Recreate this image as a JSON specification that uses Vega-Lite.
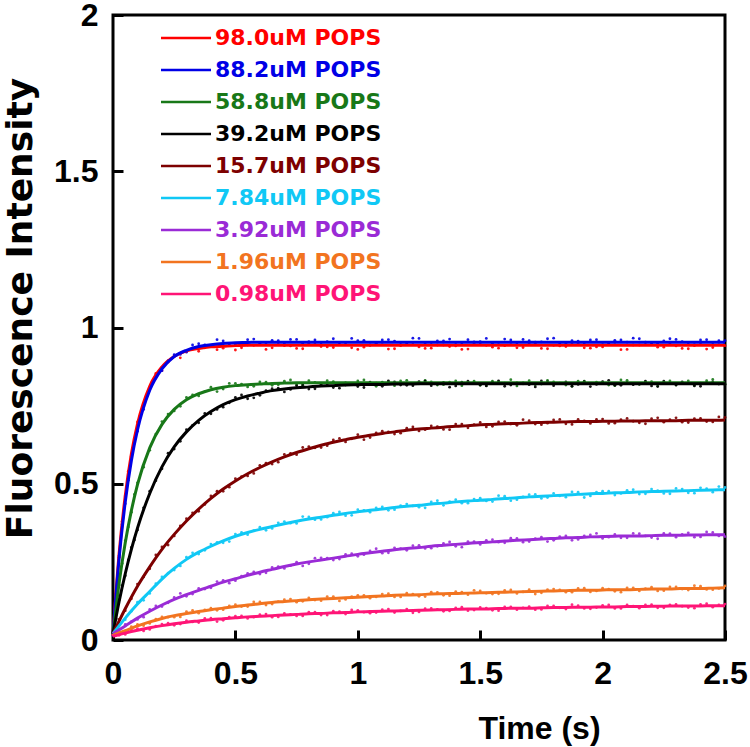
{
"$schema":"https://vega.github.io/schema/vega-lite/v6.json",
"width":612,"height":625,"autosize":"none",
"padding":{"left":113,"top":15,"right":25,"bottom":107},
"background":"white",
"config":{
 "view":{"stroke":"black","strokeWidth":3},
 "axis":{"domain":false,"grid":false,"ticks":true,"tickColor":"black","tickWidth":3,"tickSize":-10,"labelColor":"black","labelFont":"Liberation Sans","labelFontSize":32,"labelFontWeight":"bold","labelFlush":false,"labelOverlap":false,"titleColor":"black","titleFontWeight":"bold"},
 "axisX":{"labelPadding":28,"titleFont":"Liberation Sans","titleFontSize":32,"titleX":426,"titleY":98,"titleBaseline":"alphabetic","titleAlign":"center"},
 "axisY":{"labelPadding":25,"titleFont":"DejaVu Sans","titleFontSize":36,"titleX":-82,"titleY":293,"titleBaseline":"alphabetic","titleAlign":"center","titleAngle":-90},
 "legend":{"orient":"none","legendX":62,"legendY":12,"direction":"vertical","padding":0,"labelFont":"DejaVu Sans","labelFontSize":22,"labelFontWeight":"bold","labelLimit":0,"symbolType":"M-5,0H5","symbolSize":100,"symbolStrokeWidth":2.5,"labelOffset":18,"rowPadding":10}
},
"data":{"values":[
{"s":"98.0","t":0,"f":0.02,"o":0.026,"q":0.0125,"p":0.15},{"s":"98.0","t":0.025,"f":0.276,"o":0.265,"q":0.0375,"p":0.38},{"s":"98.0","t":0.05,"f":0.461,"o":0.461,"q":0.0625,"p":0.54},{"s":"98.0","t":0.075,"f":0.595,"o":0.588,"q":0.0875,"p":0.641},{"s":"98.0","t":0.1,"f":0.691,"o":0.698,"q":0.125,"p":0.752},{"s":"98.0","t":0.15,"f":0.812,"o":0.807,"q":0.175,"p":0.853},{"s":"98.0","t":0.2,"f":0.874,"o":0.862,"q":0.225,"p":0.889},{"s":"98.0","t":0.25,"f":0.907,"o":0.909,"q":0.275,"p":0.903},{"s":"98.0","t":0.3,"f":0.925,"o":0.923,"q":0.325,"p":0.931},{"s":"98.0","t":0.35,"f":0.933,"o":0.924,"q":0.375,"p":0.935},{"s":"98.0","t":0.4,"f":0.938,"o":0.943,"q":0.425,"p":0.929},{"s":"98.0","t":0.45,"f":0.94,"o":0.934,"q":0.475,"p":0.947},{"s":"98.0","t":0.5,"f":0.942,"o":0.928,"q":0.525,"p":0.935},{"s":"98.0","t":0.55,"f":0.943,"o":0.944,"q":0.575,"p":0.943},{"s":"98.0","t":0.6,"f":0.943,"o":0.947,"q":0.625,"p":0.93},{"s":"98.0","t":0.65,"f":0.943,"o":0.935,"q":0.675,"p":0.946},{"s":"98.0","t":0.7,"f":0.943,"o":0.942,"q":0.725,"p":0.941},{"s":"98.0","t":0.75,"f":0.943,"o":0.933,"q":0.775,"p":0.932},{"s":"98.0","t":0.8,"f":0.943,"o":0.949,"q":0.825,"p":0.947},{"s":"98.0","t":0.85,"f":0.943,"o":0.939,"q":0.875,"p":0.938},{"s":"98.0","t":0.9,"f":0.943,"o":0.936,"q":0.925,"p":0.951},{"s":"98.0","t":0.95,"f":0.943,"o":0.946,"q":0.975,"p":0.935},{"s":"98.0","t":1.0,"f":0.943,"o":0.93,"q":1.025,"p":0.937},{"s":"98.0","t":1.05,"f":0.943,"o":0.943,"q":1.075,"p":0.948},{"s":"98.0","t":1.1,"f":0.943,"o":0.945,"q":1.125,"p":0.931},{"s":"98.0","t":1.15,"f":0.943,"o":0.932,"q":1.175,"p":0.942},{"s":"98.0","t":1.2,"f":0.943,"o":0.951,"q":1.225,"p":0.946},{"s":"98.0","t":1.25,"f":0.943,"o":0.938,"q":1.275,"p":0.933},{"s":"98.0","t":1.3,"f":0.943,"o":0.934,"q":1.325,"p":0.944},{"s":"98.0","t":1.35,"f":0.943,"o":0.944,"q":1.375,"p":0.939},{"s":"98.0","t":1.4,"f":0.943,"o":0.941,"q":1.425,"p":0.93},{"s":"98.0","t":1.45,"f":0.943,"o":0.931,"q":1.475,"p":0.949},{"s":"98.0","t":1.5,"f":0.943,"o":0.947,"q":1.525,"p":0.943},{"s":"98.0","t":1.55,"f":0.943,"o":0.937,"q":1.575,"p":0.934},{"s":"98.0","t":1.6,"f":0.943,"o":0.942,"q":1.625,"p":0.945},{"s":"98.0","t":1.65,"f":0.943,"o":0.935,"q":1.675,"p":0.936},{"s":"98.0","t":1.7,"f":0.943,"o":0.948,"q":1.725,"p":0.95},{"s":"98.0","t":1.75,"f":0.943,"o":0.933,"q":1.775,"p":0.932},{"s":"98.0","t":1.8,"f":0.943,"o":0.943,"q":1.825,"p":0.941},{"s":"98.0","t":1.85,"f":0.943,"o":0.939,"q":1.875,"p":0.947},{"s":"98.0","t":1.9,"f":0.943,"o":0.949,"q":1.925,"p":0.935},{"s":"98.0","t":1.95,"f":0.943,"o":0.934,"q":1.975,"p":0.938},{"s":"98.0","t":2.0,"f":0.943,"o":0.938,"q":2.025,"p":0.949},{"s":"98.0","t":2.05,"f":0.943,"o":0.945,"q":2.075,"p":0.929},{"s":"98.0","t":2.1,"f":0.943,"o":0.93,"q":2.125,"p":0.944},{"s":"98.0","t":2.15,"f":0.943,"o":0.944,"q":2.175,"p":0.946},{"s":"98.0","t":2.2,"f":0.943,"o":0.946,"q":2.225,"p":0.937},{"s":"98.0","t":2.25,"f":0.943,"o":0.937,"q":2.275,"p":0.948},{"s":"98.0","t":2.3,"f":0.943,"o":0.941,"q":2.325,"p":0.933},{"s":"98.0","t":2.35,"f":0.943,"o":0.932,"q":2.375,"p":0.942},{"s":"98.0","t":2.4,"f":0.943,"o":0.947,"q":2.425,"p":0.931},{"s":"98.0","t":2.45,"f":0.943,"o":0.936,"q":2.475,"p":0.945},{"s":"98.0","t":2.5,"f":0.943,"o":0.942},
{"s":"88.2","t":0,"f":0.02,"o":0.015,"q":0.0125,"p":0.146},{"s":"88.2","t":0.025,"f":0.262,"o":0.27,"q":0.0375,"p":0.37},{"s":"88.2","t":0.05,"f":0.441,"o":0.436,"q":0.0625,"p":0.511},{"s":"88.2","t":0.075,"f":0.574,"o":0.583,"q":0.0875,"p":0.633},{"s":"88.2","t":0.1,"f":0.672,"o":0.668,"q":0.125,"p":0.738},{"s":"88.2","t":0.15,"f":0.799,"o":0.806,"q":0.175,"p":0.848},{"s":"88.2","t":0.2,"f":0.868,"o":0.862,"q":0.225,"p":0.894},{"s":"88.2","t":0.25,"f":0.907,"o":0.913,"q":0.275,"p":0.914},{"s":"88.2","t":0.3,"f":0.927,"o":0.921,"q":0.325,"p":0.944},{"s":"88.2","t":0.35,"f":0.939,"o":0.948,"q":0.375,"p":0.944},{"s":"88.2","t":0.4,"f":0.945,"o":0.942,"q":0.425,"p":0.961},{"s":"88.2","t":0.45,"f":0.949,"o":0.957,"q":0.475,"p":0.948},{"s":"88.2","t":0.5,"f":0.951,"o":0.946,"q":0.525,"p":0.951},{"s":"88.2","t":0.55,"f":0.952,"o":0.961,"q":0.575,"p":0.963},{"s":"88.2","t":0.6,"f":0.953,"o":0.95,"q":0.625,"p":0.947},{"s":"88.2","t":0.65,"f":0.953,"o":0.959,"q":0.675,"p":0.958},{"s":"88.2","t":0.7,"f":0.953,"o":0.948,"q":0.725,"p":0.962},{"s":"88.2","t":0.75,"f":0.953,"o":0.962,"q":0.775,"p":0.949},{"s":"88.2","t":0.8,"f":0.953,"o":0.955,"q":0.825,"p":0.96},{"s":"88.2","t":0.85,"f":0.953,"o":0.946,"q":0.875,"p":0.955},{"s":"88.2","t":0.9,"f":0.953,"o":0.964,"q":0.925,"p":0.946},{"s":"88.2","t":0.95,"f":0.953,"o":0.951,"q":0.975,"p":0.965},{"s":"88.2","t":1.0,"f":0.953,"o":0.958,"q":1.025,"p":0.959},{"s":"88.2","t":1.05,"f":0.953,"o":0.944,"q":1.075,"p":0.95},{"s":"88.2","t":1.1,"f":0.953,"o":0.96,"q":1.125,"p":0.961},{"s":"88.2","t":1.15,"f":0.953,"o":0.956,"q":1.175,"p":0.952},{"s":"88.2","t":1.2,"f":0.953,"o":0.949,"q":1.225,"p":0.966},{"s":"88.2","t":1.25,"f":0.953,"o":0.965,"q":1.275,"p":0.948},{"s":"88.2","t":1.3,"f":0.953,"o":0.952,"q":1.325,"p":0.957},{"s":"88.2","t":1.35,"f":0.953,"o":0.957,"q":1.375,"p":0.963},{"s":"88.2","t":1.4,"f":0.953,"o":0.946,"q":1.425,"p":0.951},{"s":"88.2","t":1.45,"f":0.953,"o":0.961,"q":1.475,"p":0.954},{"s":"88.2","t":1.5,"f":0.953,"o":0.955,"q":1.525,"p":0.965},{"s":"88.2","t":1.55,"f":0.953,"o":0.95,"q":1.575,"p":0.945},{"s":"88.2","t":1.6,"f":0.953,"o":0.963,"q":1.625,"p":0.96},{"s":"88.2","t":1.65,"f":0.953,"o":0.947,"q":1.675,"p":0.962},{"s":"88.2","t":1.7,"f":0.953,"o":0.958,"q":1.725,"p":0.953},{"s":"88.2","t":1.75,"f":0.953,"o":0.954,"q":1.775,"p":0.964},{"s":"88.2","t":1.8,"f":0.953,"o":0.966,"q":1.825,"p":0.949},{"s":"88.2","t":1.85,"f":0.953,"o":0.949,"q":1.875,"p":0.958},{"s":"88.2","t":1.9,"f":0.953,"o":0.956,"q":1.925,"p":0.947},{"s":"88.2","t":1.95,"f":0.953,"o":0.96,"q":1.975,"p":0.961},{"s":"88.2","t":2.0,"f":0.953,"o":0.945,"q":2.025,"p":0.947},{"s":"88.2","t":2.05,"f":0.953,"o":0.959,"q":2.075,"p":0.96},{"s":"88.2","t":2.1,"f":0.953,"o":0.953,"q":2.125,"p":0.966},{"s":"88.2","t":2.15,"f":0.953,"o":0.964,"q":2.175,"p":0.953},{"s":"88.2","t":2.2,"f":0.953,"o":0.948,"q":2.225,"p":0.95},{"s":"88.2","t":2.25,"f":0.953,"o":0.957,"q":2.275,"p":0.964},{"s":"88.2","t":2.3,"f":0.953,"o":0.962,"q":2.325,"p":0.955},{"s":"88.2","t":2.35,"f":0.953,"o":0.951,"q":2.375,"p":0.945},{"s":"88.2","t":2.4,"f":0.953,"o":0.96,"q":2.425,"p":0.961},{"s":"88.2","t":2.45,"f":0.953,"o":0.946,"q":2.475,"p":0.958},{"s":"88.2","t":2.5,"f":0.953,"o":0.958},
{"s":"58.8","t":0,"f":0.02,"o":0.024,"q":0.0125,"p":0.11},{"s":"58.8","t":0.025,"f":0.182,"o":0.176,"q":0.0375,"p":0.245},{"s":"58.8","t":0.05,"f":0.311,"o":0.318,"q":0.0625,"p":0.362},{"s":"58.8","t":0.075,"f":0.414,"o":0.409,"q":0.0875,"p":0.466},{"s":"58.8","t":0.1,"f":0.497,"o":0.503,"q":0.125,"p":0.553},{"s":"58.8","t":0.15,"f":0.615,"o":0.607,"q":0.175,"p":0.659},{"s":"58.8","t":0.2,"f":0.69,"o":0.699,"q":0.225,"p":0.723},{"s":"58.8","t":0.25,"f":0.738,"o":0.733,"q":0.275,"p":0.748},{"s":"58.8","t":0.3,"f":0.769,"o":0.776,"q":0.325,"p":0.784},{"s":"58.8","t":0.35,"f":0.788,"o":0.781,"q":0.375,"p":0.795},{"s":"58.8","t":0.4,"f":0.801,"o":0.809,"q":0.425,"p":0.795},{"s":"58.8","t":0.45,"f":0.809,"o":0.803,"q":0.475,"p":0.821},{"s":"58.8","t":0.5,"f":0.814,"o":0.821,"q":0.525,"p":0.819},{"s":"58.8","t":0.55,"f":0.817,"o":0.81,"q":0.575,"p":0.812},{"s":"58.8","t":0.6,"f":0.819,"o":0.826,"q":0.625,"p":0.825},{"s":"58.8","t":0.65,"f":0.821,"o":0.815,"q":0.675,"p":0.817},{"s":"58.8","t":0.7,"f":0.822,"o":0.828,"q":0.725,"p":0.832},{"s":"58.8","t":0.75,"f":0.823,"o":0.817,"q":0.775,"p":0.815},{"s":"58.8","t":0.8,"f":0.823,"o":0.83,"q":0.825,"p":0.824},{"s":"58.8","t":0.85,"f":0.823,"o":0.818,"q":0.875,"p":0.83},{"s":"58.8","t":0.9,"f":0.823,"o":0.827,"q":0.925,"p":0.818},{"s":"58.8","t":0.95,"f":0.823,"o":0.816,"q":0.975,"p":0.821},{"s":"58.8","t":1.0,"f":0.823,"o":0.829,"q":1.025,"p":0.832},{"s":"58.8","t":1.05,"f":0.823,"o":0.819,"q":1.075,"p":0.812},{"s":"58.8","t":1.1,"f":0.823,"o":0.825,"q":1.125,"p":0.827},{"s":"58.8","t":1.15,"f":0.823,"o":0.814,"q":1.175,"p":0.829},{"s":"58.8","t":1.2,"f":0.823,"o":0.831,"q":1.225,"p":0.82},{"s":"58.8","t":1.25,"f":0.823,"o":0.82,"q":1.275,"p":0.831},{"s":"58.8","t":1.3,"f":0.823,"o":0.826,"q":1.325,"p":0.816},{"s":"58.8","t":1.35,"f":0.823,"o":0.817,"q":1.375,"p":0.825},{"s":"58.8","t":1.4,"f":0.823,"o":0.829,"q":1.425,"p":0.814},{"s":"58.8","t":1.45,"f":0.823,"o":0.821,"q":1.475,"p":0.828},{"s":"58.8","t":1.5,"f":0.823,"o":0.815,"q":1.525,"p":0.814},{"s":"58.8","t":1.55,"f":0.823,"o":0.828,"q":1.575,"p":0.827},{"s":"58.8","t":1.6,"f":0.823,"o":0.822,"q":1.625,"p":0.833},{"s":"58.8","t":1.65,"f":0.823,"o":0.813,"q":1.675,"p":0.82},{"s":"58.8","t":1.7,"f":0.823,"o":0.83,"q":1.725,"p":0.817},{"s":"58.8","t":1.75,"f":0.823,"o":0.819,"q":1.775,"p":0.831},{"s":"58.8","t":1.8,"f":0.823,"o":0.826,"q":1.825,"p":0.822},{"s":"58.8","t":1.85,"f":0.823,"o":0.816,"q":1.875,"p":0.812},{"s":"58.8","t":1.9,"f":0.823,"o":0.828,"q":1.925,"p":0.828},{"s":"58.8","t":1.95,"f":0.823,"o":0.82,"q":1.975,"p":0.825},{"s":"58.8","t":2.0,"f":0.823,"o":0.825,"q":2.025,"p":0.816},{"s":"58.8","t":2.05,"f":0.823,"o":0.814,"q":2.075,"p":0.832},{"s":"58.8","t":2.1,"f":0.823,"o":0.831,"q":2.125,"p":0.819},{"s":"58.8","t":2.15,"f":0.823,"o":0.818,"q":2.175,"p":0.826},{"s":"58.8","t":2.2,"f":0.823,"o":0.827,"q":2.225,"p":0.813},{"s":"58.8","t":2.25,"f":0.823,"o":0.821,"q":2.275,"p":0.829},{"s":"58.8","t":2.3,"f":0.823,"o":0.816,"q":2.325,"p":0.824},{"s":"58.8","t":2.35,"f":0.823,"o":0.829,"q":2.375,"p":0.815},{"s":"58.8","t":2.4,"f":0.823,"o":0.822,"q":2.425,"p":0.83},{"s":"58.8","t":2.45,"f":0.823,"o":0.834,"q":2.475,"p":0.821},{"s":"58.8","t":2.5,"f":0.823,"o":0.819},
{"s":"39.2","t":0,"f":0.02,"o":0.018,"q":0.0125,"p":0.068},{"s":"39.2","t":0.025,"f":0.123,"o":0.129,"q":0.0375,"p":0.174},{"s":"39.2","t":0.05,"f":0.212,"o":0.206,"q":0.0625,"p":0.256},{"s":"39.2","t":0.075,"f":0.29,"o":0.296,"q":0.0875,"p":0.32},{"s":"39.2","t":0.1,"f":0.358,"o":0.352,"q":0.125,"p":0.423},{"s":"39.2","t":0.15,"f":0.469,"o":0.476,"q":0.175,"p":0.51},{"s":"39.2","t":0.2,"f":0.554,"o":0.548,"q":0.225,"p":0.598},{"s":"39.2","t":0.25,"f":0.618,"o":0.611,"q":0.275,"p":0.636},{"s":"39.2","t":0.3,"f":0.666,"o":0.673,"q":0.325,"p":0.687},{"s":"39.2","t":0.35,"f":0.703,"o":0.695,"q":0.375,"p":0.725},{"s":"39.2","t":0.4,"f":0.731,"o":0.724,"q":0.425,"p":0.738},{"s":"39.2","t":0.45,"f":0.753,"o":0.745,"q":0.475,"p":0.759},{"s":"39.2","t":0.5,"f":0.769,"o":0.776,"q":0.525,"p":0.784},{"s":"39.2","t":0.55,"f":0.781,"o":0.772,"q":0.575,"p":0.775},{"s":"39.2","t":0.6,"f":0.79,"o":0.783,"q":0.625,"p":0.798},{"s":"39.2","t":0.65,"f":0.798,"o":0.804,"q":0.675,"p":0.806},{"s":"39.2","t":0.7,"f":0.803,"o":0.794,"q":0.725,"p":0.802},{"s":"39.2","t":0.75,"f":0.807,"o":0.814,"q":0.775,"p":0.817},{"s":"39.2","t":0.8,"f":0.81,"o":0.803,"q":0.825,"p":0.804},{"s":"39.2","t":0.85,"f":0.813,"o":0.819,"q":0.875,"p":0.816},{"s":"39.2","t":0.9,"f":0.814,"o":0.808,"q":0.925,"p":0.806},{"s":"39.2","t":0.95,"f":0.816,"o":0.823,"q":0.975,"p":0.821},{"s":"39.2","t":1.0,"f":0.817,"o":0.811,"q":1.025,"p":0.808},{"s":"39.2","t":1.05,"f":0.818,"o":0.825,"q":1.075,"p":0.822},{"s":"39.2","t":1.1,"f":0.818,"o":0.812,"q":1.125,"p":0.829},{"s":"39.2","t":1.15,"f":0.819,"o":0.826,"q":1.175,"p":0.816},{"s":"39.2","t":1.2,"f":0.819,"o":0.815,"q":1.225,"p":0.814},{"s":"39.2","t":1.25,"f":0.82,"o":0.827,"q":1.275,"p":0.828},{"s":"39.2","t":1.3,"f":0.82,"o":0.814,"q":1.325,"p":0.819},{"s":"39.2","t":1.35,"f":0.82,"o":0.824,"q":1.375,"p":0.809},{"s":"39.2","t":1.4,"f":0.82,"o":0.813,"q":1.425,"p":0.825},{"s":"39.2","t":1.45,"f":0.82,"o":0.828,"q":1.475,"p":0.822},{"s":"39.2","t":1.5,"f":0.82,"o":0.816,"q":1.525,"p":0.813},{"s":"39.2","t":1.55,"f":0.82,"o":0.825,"q":1.575,"p":0.829},{"s":"39.2","t":1.6,"f":0.82,"o":0.812,"q":1.625,"p":0.816},{"s":"39.2","t":1.65,"f":0.82,"o":0.823,"q":1.675,"p":0.823},{"s":"39.2","t":1.7,"f":0.82,"o":0.817,"q":1.725,"p":0.81},{"s":"39.2","t":1.75,"f":0.82,"o":0.829,"q":1.775,"p":0.826},{"s":"39.2","t":1.8,"f":0.82,"o":0.814,"q":1.825,"p":0.821},{"s":"39.2","t":1.85,"f":0.82,"o":0.826,"q":1.875,"p":0.812},{"s":"39.2","t":1.9,"f":0.82,"o":0.818,"q":1.925,"p":0.827},{"s":"39.2","t":1.95,"f":0.82,"o":0.811,"q":1.975,"p":0.818},{"s":"39.2","t":2.0,"f":0.82,"o":0.827,"q":2.025,"p":0.831},{"s":"39.2","t":2.05,"f":0.82,"o":0.815,"q":2.075,"p":0.815},{"s":"39.2","t":2.1,"f":0.82,"o":0.824,"q":2.125,"p":0.817},{"s":"39.2","t":2.15,"f":0.82,"o":0.819,"q":2.175,"p":0.828},{"s":"39.2","t":2.2,"f":0.82,"o":0.813,"q":2.225,"p":0.811},{"s":"39.2","t":2.25,"f":0.82,"o":0.828,"q":2.275,"p":0.822},{"s":"39.2","t":2.3,"f":0.82,"o":0.816,"q":2.325,"p":0.826},{"s":"39.2","t":2.35,"f":0.82,"o":0.822,"q":2.375,"p":0.813},{"s":"39.2","t":2.4,"f":0.82,"o":0.812,"q":2.425,"p":0.824},{"s":"39.2","t":2.45,"f":0.82,"o":0.826,"q":2.475,"p":0.819},{"s":"39.2","t":2.5,"f":0.82,"o":0.818},
{"s":"15.7","t":0,"f":0.02,"o":0.025,"q":0.025,"p":0.066},{"s":"15.7","t":0.05,"f":0.1,"o":0.094,"q":0.075,"p":0.132},{"s":"15.7","t":0.1,"f":0.172,"o":0.179,"q":0.125,"p":0.202},{"s":"15.7","t":0.15,"f":0.234,"o":0.228,"q":0.175,"p":0.272},{"s":"15.7","t":0.2,"f":0.29,"o":0.298,"q":0.225,"p":0.304},{"s":"15.7","t":0.25,"f":0.338,"o":0.333,"q":0.275,"p":0.365},{"s":"15.7","t":0.3,"f":0.381,"o":0.388,"q":0.325,"p":0.407},{"s":"15.7","t":0.35,"f":0.419,"o":0.412,"q":0.375,"p":0.434},{"s":"15.7","t":0.4,"f":0.453,"o":0.461,"q":0.425,"p":0.476},{"s":"15.7","t":0.45,"f":0.483,"o":0.476,"q":0.475,"p":0.489},{"s":"15.7","t":0.5,"f":0.509,"o":0.516,"q":0.525,"p":0.523},{"s":"15.7","t":0.55,"f":0.532,"o":0.525,"q":0.575,"p":0.533},{"s":"15.7","t":0.6,"f":0.552,"o":0.559,"q":0.625,"p":0.566},{"s":"15.7","t":0.65,"f":0.57,"o":0.563,"q":0.675,"p":0.569},{"s":"15.7","t":0.7,"f":0.586,"o":0.594,"q":0.725,"p":0.597},{"s":"15.7","t":0.75,"f":0.6,"o":0.593,"q":0.775,"p":0.616},{"s":"15.7","t":0.8,"f":0.612,"o":0.619,"q":0.825,"p":0.615},{"s":"15.7","t":0.85,"f":0.623,"o":0.616,"q":0.875,"p":0.622},{"s":"15.7","t":0.9,"f":0.633,"o":0.64,"q":0.925,"p":0.645},{"s":"15.7","t":0.95,"f":0.641,"o":0.634,"q":0.975,"p":0.644},{"s":"15.7","t":1.0,"f":0.649,"o":0.657,"q":1.025,"p":0.641},{"s":"15.7","t":1.05,"f":0.655,"o":0.648,"q":1.075,"p":0.663},{"s":"15.7","t":1.1,"f":0.661,"o":0.668,"q":1.125,"p":0.666},{"s":"15.7","t":1.15,"f":0.666,"o":0.659,"q":1.175,"p":0.662},{"s":"15.7","t":1.2,"f":0.671,"o":0.678,"q":1.225,"p":0.682},{"s":"15.7","t":1.25,"f":0.675,"o":0.669,"q":1.275,"p":0.673},{"s":"15.7","t":1.3,"f":0.678,"o":0.685,"q":1.325,"p":0.683},{"s":"15.7","t":1.35,"f":0.681,"o":0.674,"q":1.375,"p":0.673},{"s":"15.7","t":1.4,"f":0.684,"o":0.691,"q":1.425,"p":0.691},{"s":"15.7","t":1.45,"f":0.686,"o":0.679,"q":1.475,"p":0.689},{"s":"15.7","t":1.5,"f":0.689,"o":0.696,"q":1.525,"p":0.682},{"s":"15.7","t":1.55,"f":0.69,"o":0.684,"q":1.575,"p":0.698},{"s":"15.7","t":1.6,"f":0.692,"o":0.699,"q":1.625,"p":0.691},{"s":"15.7","t":1.65,"f":0.693,"o":0.687,"q":1.675,"p":0.705},{"s":"15.7","t":1.7,"f":0.695,"o":0.702,"q":1.725,"p":0.691},{"s":"15.7","t":1.75,"f":0.696,"o":0.689,"q":1.775,"p":0.694},{"s":"15.7","t":1.8,"f":0.697,"o":0.704,"q":1.825,"p":0.706},{"s":"15.7","t":1.85,"f":0.698,"o":0.692,"q":1.875,"p":0.69},{"s":"15.7","t":1.9,"f":0.699,"o":0.706,"q":1.925,"p":0.701},{"s":"15.7","t":1.95,"f":0.699,"o":0.693,"q":1.975,"p":0.706},{"s":"15.7","t":2.0,"f":0.7,"o":0.707,"q":2.025,"p":0.693},{"s":"15.7","t":2.05,"f":0.7,"o":0.694,"q":2.075,"p":0.705},{"s":"15.7","t":2.1,"f":0.701,"o":0.709,"q":2.125,"p":0.7},{"s":"15.7","t":2.15,"f":0.701,"o":0.695,"q":2.175,"p":0.692},{"s":"15.7","t":2.2,"f":0.702,"o":0.708,"q":2.225,"p":0.711},{"s":"15.7","t":2.25,"f":0.702,"o":0.697,"q":2.275,"p":0.705},{"s":"15.7","t":2.3,"f":0.702,"o":0.711,"q":2.325,"p":0.697},{"s":"15.7","t":2.35,"f":0.703,"o":0.696,"q":2.375,"p":0.708},{"s":"15.7","t":2.4,"f":0.703,"o":0.709,"q":2.425,"p":0.699},{"s":"15.7","t":2.45,"f":0.703,"o":0.698,"q":2.475,"p":0.714},{"s":"15.7","t":2.5,"f":0.704,"o":0.712},
{"s":"7.84","t":0,"f":0.02,"o":0.024,"q":0.025,"p":0.049},{"s":"7.84","t":0.05,"f":0.07,"o":0.065,"q":0.075,"p":0.092},{"s":"7.84","t":0.1,"f":0.115,"o":0.121,"q":0.125,"p":0.127},{"s":"7.84","t":0.15,"f":0.155,"o":0.149,"q":0.175,"p":0.18},{"s":"7.84","t":0.2,"f":0.195,"o":0.202,"q":0.225,"p":0.214},{"s":"7.84","t":0.25,"f":0.229,"o":0.224,"q":0.275,"p":0.237},{"s":"7.84","t":0.3,"f":0.258,"o":0.265,"q":0.325,"p":0.279},{"s":"7.84","t":0.35,"f":0.281,"o":0.275,"q":0.375,"p":0.287},{"s":"7.84","t":0.4,"f":0.3,"o":0.307,"q":0.425,"p":0.312},{"s":"7.84","t":0.45,"f":0.317,"o":0.311,"q":0.475,"p":0.315},{"s":"7.84","t":0.5,"f":0.332,"o":0.339,"q":0.525,"p":0.344},{"s":"7.84","t":0.55,"f":0.344,"o":0.337,"q":0.575,"p":0.35},{"s":"7.84","t":0.6,"f":0.354,"o":0.361,"q":0.625,"p":0.351},{"s":"7.84","t":0.65,"f":0.363,"o":0.357,"q":0.675,"p":0.375},{"s":"7.84","t":0.7,"f":0.372,"o":0.379,"q":0.725,"p":0.374},{"s":"7.84","t":0.75,"f":0.38,"o":0.373,"q":0.775,"p":0.395},{"s":"7.84","t":0.8,"f":0.387,"o":0.394,"q":0.825,"p":0.385},{"s":"7.84","t":0.85,"f":0.393,"o":0.386,"q":0.875,"p":0.393},{"s":"7.84","t":0.9,"f":0.399,"o":0.406,"q":0.925,"p":0.41},{"s":"7.84","t":0.95,"f":0.405,"o":0.398,"q":0.975,"p":0.399},{"s":"7.84","t":1.0,"f":0.41,"o":0.417,"q":1.025,"p":0.415},{"s":"7.84","t":1.05,"f":0.415,"o":0.409,"q":1.075,"p":0.423},{"s":"7.84","t":1.1,"f":0.419,"o":0.426,"q":1.125,"p":0.415},{"s":"7.84","t":1.15,"f":0.424,"o":0.417,"q":1.175,"p":0.43},{"s":"7.84","t":1.2,"f":0.428,"o":0.435,"q":1.225,"p":0.429},{"s":"7.84","t":1.25,"f":0.431,"o":0.425,"q":1.275,"p":0.423},{"s":"7.84","t":1.3,"f":0.435,"o":0.442,"q":1.325,"p":0.446},{"s":"7.84","t":1.35,"f":0.438,"o":0.431,"q":1.375,"p":0.443},{"s":"7.84","t":1.4,"f":0.442,"o":0.449,"q":1.425,"p":0.438},{"s":"7.84","t":1.45,"f":0.445,"o":0.438,"q":1.475,"p":0.451},{"s":"7.84","t":1.5,"f":0.447,"o":0.454,"q":1.525,"p":0.445},{"s":"7.84","t":1.55,"f":0.45,"o":0.443,"q":1.575,"p":0.462},{"s":"7.84","t":1.6,"f":0.453,"o":0.46,"q":1.625,"p":0.446},{"s":"7.84","t":1.65,"f":0.455,"o":0.449,"q":1.675,"p":0.458},{"s":"7.84","t":1.7,"f":0.458,"o":0.465,"q":1.725,"p":0.466},{"s":"7.84","t":1.75,"f":0.46,"o":0.453,"q":1.775,"p":0.456},{"s":"7.84","t":1.8,"f":0.462,"o":0.469,"q":1.825,"p":0.461},{"s":"7.84","t":1.85,"f":0.464,"o":0.457,"q":1.875,"p":0.474},{"s":"7.84","t":1.9,"f":0.466,"o":0.473,"q":1.925,"p":0.456},{"s":"7.84","t":1.95,"f":0.468,"o":0.461,"q":1.975,"p":0.473},{"s":"7.84","t":2.0,"f":0.469,"o":0.476,"q":2.025,"p":0.476},{"s":"7.84","t":2.05,"f":0.471,"o":0.464,"q":2.075,"p":0.469},{"s":"7.84","t":2.1,"f":0.472,"o":0.479,"q":2.125,"p":0.481},{"s":"7.84","t":2.15,"f":0.474,"o":0.467,"q":2.175,"p":0.468},{"s":"7.84","t":2.2,"f":0.475,"o":0.483,"q":2.225,"p":0.478},{"s":"7.84","t":2.25,"f":0.476,"o":0.469,"q":2.275,"p":0.468},{"s":"7.84","t":2.3,"f":0.477,"o":0.485,"q":2.325,"p":0.483},{"s":"7.84","t":2.35,"f":0.478,"o":0.471,"q":2.375,"p":0.47},{"s":"7.84","t":2.4,"f":0.479,"o":0.487,"q":2.425,"p":0.484},{"s":"7.84","t":2.45,"f":0.48,"o":0.473,"q":2.475,"p":0.491},{"s":"7.84","t":2.5,"f":0.481,"o":0.488},
{"s":"3.92","t":0,"f":0.02,"o":0.017,"q":0.025,"p":0.035},{"s":"3.92","t":0.05,"f":0.045,"o":0.05,"q":0.075,"p":0.059},{"s":"3.92","t":0.1,"f":0.07,"o":0.066,"q":0.125,"p":0.073},{"s":"3.92","t":0.15,"f":0.092,"o":0.098,"q":0.175,"p":0.109},{"s":"3.92","t":0.2,"f":0.112,"o":0.107,"q":0.225,"p":0.119},{"s":"3.92","t":0.25,"f":0.13,"o":0.136,"q":0.275,"p":0.149},{"s":"3.92","t":0.3,"f":0.145,"o":0.14,"q":0.325,"p":0.147},{"s":"3.92","t":0.35,"f":0.159,"o":0.165,"q":0.375,"p":0.163},{"s":"3.92","t":0.4,"f":0.172,"o":0.167,"q":0.425,"p":0.187},{"s":"3.92","t":0.45,"f":0.185,"o":0.191,"q":0.475,"p":0.182},{"s":"3.92","t":0.5,"f":0.196,"o":0.19,"q":0.525,"p":0.204},{"s":"3.92","t":0.55,"f":0.207,"o":0.213,"q":0.575,"p":0.218},{"s":"3.92","t":0.6,"f":0.217,"o":0.211,"q":0.625,"p":0.215},{"s":"3.92","t":0.65,"f":0.226,"o":0.232,"q":0.675,"p":0.235},{"s":"3.92","t":0.7,"f":0.235,"o":0.229,"q":0.725,"p":0.238},{"s":"3.92","t":0.75,"f":0.243,"o":0.249,"q":0.775,"p":0.237},{"s":"3.92","t":0.8,"f":0.25,"o":0.244,"q":0.825,"p":0.262},{"s":"3.92","t":0.85,"f":0.256,"o":0.263,"q":0.875,"p":0.262},{"s":"3.92","t":0.9,"f":0.262,"o":0.256,"q":0.925,"p":0.259},{"s":"3.92","t":0.95,"f":0.268,"o":0.274,"q":0.975,"p":0.276},{"s":"3.92","t":1.0,"f":0.274,"o":0.268,"q":1.025,"p":0.273},{"s":"3.92","t":1.05,"f":0.279,"o":0.285,"q":1.075,"p":0.292},{"s":"3.92","t":1.1,"f":0.284,"o":0.278,"q":1.125,"p":0.279},{"s":"3.92","t":1.15,"f":0.289,"o":0.295,"q":1.175,"p":0.292},{"s":"3.92","t":1.2,"f":0.293,"o":0.287,"q":1.225,"p":0.302},{"s":"3.92","t":1.25,"f":0.296,"o":0.303,"q":1.275,"p":0.293},{"s":"3.92","t":1.3,"f":0.3,"o":0.294,"q":1.325,"p":0.3},{"s":"3.92","t":1.35,"f":0.303,"o":0.309,"q":1.375,"p":0.314},{"s":"3.92","t":1.4,"f":0.306,"o":0.3,"q":1.425,"p":0.297},{"s":"3.92","t":1.45,"f":0.309,"o":0.315,"q":1.475,"p":0.315},{"s":"3.92","t":1.5,"f":0.312,"o":0.306,"q":1.525,"p":0.319},{"s":"3.92","t":1.55,"f":0.314,"o":0.321,"q":1.575,"p":0.313},{"s":"3.92","t":1.6,"f":0.317,"o":0.311,"q":1.625,"p":0.326},{"s":"3.92","t":1.65,"f":0.319,"o":0.325,"q":1.675,"p":0.313},{"s":"3.92","t":1.7,"f":0.321,"o":0.315,"q":1.725,"p":0.324},{"s":"3.92","t":1.75,"f":0.323,"o":0.329,"q":1.775,"p":0.315},{"s":"3.92","t":1.8,"f":0.325,"o":0.319,"q":1.825,"p":0.331},{"s":"3.92","t":1.85,"f":0.327,"o":0.333,"q":1.875,"p":0.319},{"s":"3.92","t":1.9,"f":0.328,"o":0.322,"q":1.925,"p":0.333},{"s":"3.92","t":1.95,"f":0.33,"o":0.336,"q":1.975,"p":0.341},{"s":"3.92","t":2.0,"f":0.331,"o":0.325,"q":2.025,"p":0.329},{"s":"3.92","t":2.05,"f":0.332,"o":0.338,"q":2.075,"p":0.327},{"s":"3.92","t":2.1,"f":0.333,"o":0.327,"q":2.125,"p":0.341},{"s":"3.92","t":2.15,"f":0.333,"o":0.34,"q":2.175,"p":0.333},{"s":"3.92","t":2.2,"f":0.334,"o":0.328,"q":2.225,"p":0.324},{"s":"3.92","t":2.25,"f":0.335,"o":0.341,"q":2.275,"p":0.34},{"s":"3.92","t":2.3,"f":0.335,"o":0.329,"q":2.325,"p":0.338},{"s":"3.92","t":2.35,"f":0.336,"o":0.343,"q":2.375,"p":0.329},{"s":"3.92","t":2.4,"f":0.336,"o":0.33,"q":2.425,"p":0.346},{"s":"3.92","t":2.45,"f":0.337,"o":0.344,"q":2.475,"p":0.333},{"s":"3.92","t":2.5,"f":0.337,"o":0.331},
{"s":"1.96","t":0,"f":0.015,"o":0.018,"q":0.025,"p":0.024},{"s":"1.96","t":0.05,"f":0.03,"o":0.026,"q":0.075,"p":0.043},{"s":"1.96","t":0.1,"f":0.045,"o":0.05,"q":0.125,"p":0.046},{"s":"1.96","t":0.15,"f":0.058,"o":0.053,"q":0.175,"p":0.067},{"s":"1.96","t":0.2,"f":0.069,"o":0.074,"q":0.225,"p":0.073},{"s":"1.96","t":0.25,"f":0.078,"o":0.073,"q":0.275,"p":0.074},{"s":"1.96","t":0.3,"f":0.085,"o":0.091,"q":0.325,"p":0.095},{"s":"1.96","t":0.35,"f":0.091,"o":0.086,"q":0.375,"p":0.096},{"s":"1.96","t":0.4,"f":0.097,"o":0.102,"q":0.425,"p":0.095},{"s":"1.96","t":0.45,"f":0.102,"o":0.097,"q":0.475,"p":0.109},{"s":"1.96","t":0.5,"f":0.107,"o":0.113,"q":0.525,"p":0.107},{"s":"1.96","t":0.55,"f":0.112,"o":0.107,"q":0.575,"p":0.122},{"s":"1.96","t":0.6,"f":0.116,"o":0.122,"q":0.625,"p":0.112},{"s":"1.96","t":0.65,"f":0.12,"o":0.115,"q":0.675,"p":0.123},{"s":"1.96","t":0.7,"f":0.123,"o":0.129,"q":0.725,"p":0.131},{"s":"1.96","t":0.75,"f":0.126,"o":0.121,"q":0.775,"p":0.124},{"s":"1.96","t":0.8,"f":0.129,"o":0.135,"q":0.825,"p":0.128},{"s":"1.96","t":0.85,"f":0.131,"o":0.126,"q":0.875,"p":0.139},{"s":"1.96","t":0.9,"f":0.133,"o":0.139,"q":0.925,"p":0.125},{"s":"1.96","t":0.95,"f":0.135,"o":0.13,"q":0.975,"p":0.139},{"s":"1.96","t":1.0,"f":0.137,"o":0.143,"q":1.025,"p":0.143},{"s":"1.96","t":1.05,"f":0.139,"o":0.134,"q":1.075,"p":0.138},{"s":"1.96","t":1.1,"f":0.141,"o":0.147,"q":1.125,"p":0.148},{"s":"1.96","t":1.15,"f":0.143,"o":0.138,"q":1.175,"p":0.138},{"s":"1.96","t":1.2,"f":0.144,"o":0.15,"q":1.225,"p":0.147},{"s":"1.96","t":1.25,"f":0.145,"o":0.14,"q":1.275,"p":0.139},{"s":"1.96","t":1.3,"f":0.147,"o":0.153,"q":1.325,"p":0.152},{"s":"1.96","t":1.35,"f":0.148,"o":0.143,"q":1.375,"p":0.142},{"s":"1.96","t":1.4,"f":0.149,"o":0.155,"q":1.425,"p":0.153},{"s":"1.96","t":1.45,"f":0.15,"o":0.145,"q":1.475,"p":0.159},{"s":"1.96","t":1.5,"f":0.151,"o":0.157,"q":1.525,"p":0.15},{"s":"1.96","t":1.55,"f":0.152,"o":0.147,"q":1.575,"p":0.148},{"s":"1.96","t":1.6,"f":0.153,"o":0.159,"q":1.625,"p":0.16},{"s":"1.96","t":1.65,"f":0.154,"o":0.149,"q":1.675,"p":0.154},{"s":"1.96","t":1.7,"f":0.155,"o":0.161,"q":1.725,"p":0.147},{"s":"1.96","t":1.75,"f":0.156,"o":0.151,"q":1.775,"p":0.161},{"s":"1.96","t":1.8,"f":0.157,"o":0.163,"q":1.825,"p":0.16},{"s":"1.96","t":1.85,"f":0.158,"o":0.153,"q":1.875,"p":0.153},{"s":"1.96","t":1.9,"f":0.159,"o":0.165,"q":1.925,"p":0.166},{"s":"1.96","t":1.95,"f":0.159,"o":0.154,"q":1.975,"p":0.157},{"s":"1.96","t":2.0,"f":0.16,"o":0.166,"q":2.025,"p":0.163},{"s":"1.96","t":2.05,"f":0.161,"o":0.156,"q":2.075,"p":0.153},{"s":"1.96","t":2.1,"f":0.161,"o":0.167,"q":2.125,"p":0.167},{"s":"1.96","t":2.15,"f":0.162,"o":0.157,"q":2.175,"p":0.164},{"s":"1.96","t":2.2,"f":0.163,"o":0.169,"q":2.225,"p":0.157},{"s":"1.96","t":2.25,"f":0.163,"o":0.158,"q":2.275,"p":0.17},{"s":"1.96","t":2.3,"f":0.164,"o":0.17,"q":2.325,"p":0.163},{"s":"1.96","t":2.35,"f":0.165,"o":0.16,"q":2.375,"p":0.174},{"s":"1.96","t":2.4,"f":0.165,"o":0.172,"q":2.425,"p":0.162},{"s":"1.96","t":2.45,"f":0.166,"o":0.161,"q":2.475,"p":0.165},{"s":"1.96","t":2.5,"f":0.167,"o":0.173},
{"s":"0.98","t":0,"f":0.012,"o":0.015,"q":0.025,"p":0.015},{"s":"0.98","t":0.05,"f":0.022,"o":0.018,"q":0.075,"p":0.032},{"s":"0.98","t":0.1,"f":0.031,"o":0.036,"q":0.125,"p":0.029},{"s":"0.98","t":0.15,"f":0.039,"o":0.034,"q":0.175,"p":0.044},{"s":"0.98","t":0.2,"f":0.046,"o":0.051,"q":0.225,"p":0.054},{"s":"0.98","t":0.25,"f":0.052,"o":0.047,"q":0.275,"p":0.051},{"s":"0.98","t":0.3,"f":0.057,"o":0.062,"q":0.325,"p":0.058},{"s":"0.98","t":0.35,"f":0.061,"o":0.056,"q":0.375,"p":0.069},{"s":"0.98","t":0.4,"f":0.065,"o":0.07,"q":0.425,"p":0.059},{"s":"0.98","t":0.45,"f":0.068,"o":0.063,"q":0.475,"p":0.073},{"s":"0.98","t":0.5,"f":0.071,"o":0.076,"q":0.525,"p":0.077},{"s":"0.98","t":0.55,"f":0.074,"o":0.069,"q":0.575,"p":0.073},{"s":"0.98","t":0.6,"f":0.076,"o":0.081,"q":0.625,"p":0.083},{"s":"0.98","t":0.65,"f":0.078,"o":0.073,"q":0.675,"p":0.074},{"s":"0.98","t":0.7,"f":0.08,"o":0.085,"q":0.725,"p":0.082},{"s":"0.98","t":0.75,"f":0.082,"o":0.077,"q":0.775,"p":0.077},{"s":"0.98","t":0.8,"f":0.084,"o":0.089,"q":0.825,"p":0.089},{"s":"0.98","t":0.85,"f":0.085,"o":0.08,"q":0.875,"p":0.08},{"s":"0.98","t":0.9,"f":0.087,"o":0.092,"q":0.925,"p":0.091},{"s":"0.98","t":0.95,"f":0.088,"o":0.083,"q":0.975,"p":0.096},{"s":"0.98","t":1.0,"f":0.09,"o":0.095,"q":1.025,"p":0.089},{"s":"0.98","t":1.05,"f":0.091,"o":0.086,"q":1.075,"p":0.088},{"s":"0.98","t":1.1,"f":0.092,"o":0.097,"q":1.125,"p":0.099},{"s":"0.98","t":1.15,"f":0.093,"o":0.088,"q":1.175,"p":0.093},{"s":"0.98","t":1.2,"f":0.094,"o":0.099,"q":1.225,"p":0.087},{"s":"0.98","t":1.25,"f":0.095,"o":0.09,"q":1.275,"p":0.1},{"s":"0.98","t":1.3,"f":0.096,"o":0.101,"q":1.325,"p":0.098},{"s":"0.98","t":1.35,"f":0.097,"o":0.092,"q":1.375,"p":0.093},{"s":"0.98","t":1.4,"f":0.098,"o":0.103,"q":1.425,"p":0.105},{"s":"0.98","t":1.45,"f":0.099,"o":0.094,"q":1.475,"p":0.096},{"s":"0.98","t":1.5,"f":0.099,"o":0.104,"q":1.525,"p":0.102},{"s":"0.98","t":1.55,"f":0.1,"o":0.095,"q":1.575,"p":0.094},{"s":"0.98","t":1.6,"f":0.101,"o":0.106,"q":1.625,"p":0.106},{"s":"0.98","t":1.65,"f":0.102,"o":0.097,"q":1.675,"p":0.103},{"s":"0.98","t":1.7,"f":0.102,"o":0.107,"q":1.725,"p":0.097},{"s":"0.98","t":1.75,"f":0.103,"o":0.098,"q":1.775,"p":0.109},{"s":"0.98","t":1.8,"f":0.104,"o":0.109,"q":1.825,"p":0.103},{"s":"0.98","t":1.85,"f":0.104,"o":0.099,"q":1.875,"p":0.113},{"s":"0.98","t":1.9,"f":0.105,"o":0.11,"q":1.925,"p":0.101},{"s":"0.98","t":1.95,"f":0.105,"o":0.1,"q":1.975,"p":0.104},{"s":"0.98","t":2.0,"f":0.106,"o":0.111,"q":2.025,"p":0.112},{"s":"0.98","t":2.05,"f":0.106,"o":0.101,"q":2.075,"p":0.101},{"s":"0.98","t":2.1,"f":0.107,"o":0.112,"q":2.125,"p":0.108},{"s":"0.98","t":2.15,"f":0.107,"o":0.102,"q":2.175,"p":0.112},{"s":"0.98","t":2.2,"f":0.108,"o":0.113,"q":2.225,"p":0.103},{"s":"0.98","t":2.25,"f":0.108,"o":0.103,"q":2.275,"p":0.112},{"s":"0.98","t":2.3,"f":0.109,"o":0.114,"q":2.325,"p":0.108},{"s":"0.98","t":2.35,"f":0.109,"o":0.104,"q":2.375,"p":0.102},{"s":"0.98","t":2.4,"f":0.109,"o":0.114,"q":2.425,"p":0.116},{"s":"0.98","t":2.45,"f":0.11,"o":0.105,"q":2.475,"p":0.112},{"s":"0.98","t":2.5,"f":0.11,"o":0.115}
]},
"layer":[
 {"mark":{"type":"point","filled":true,"size":8,"opacity":0.9},
  "encoding":{
   "x":{"field":"t","type":"quantitative","title":"Time (s)","scale":{"domain":[0,2.5],"nice":false},"axis":{"values":[0,0.5,1,1.5,2,2.5],"format":"~g"}},
   "y":{"field":"o","type":"quantitative","title":"Fluorescence Intensity","scale":{"domain":[0,2],"nice":false},"axis":{"values":[0,0.5,1,1.5,2],"format":"~g"}},
   "color":{"field":"s","type":"nominal","scale":{"domain":["98.0","88.2","58.8","39.2","15.7","7.84","3.92","1.96","0.98"],"range":["#ff0000","#0000e6","#187818","#000000","#7d0000","#10c8f5","#9a2bd6","#f27420","#ff1476"]},
    "legend":{"title":null,"labelExpr":"datum.label + 'uM POPS'","encode":{"labels":{"update":{"fill":{"signal":"scale('color', datum.value)"}}},"symbols":{"update":{"fill":{"value":"transparent"},"stroke":{"signal":"scale('color', datum.value)"},"opacity":{"value":1}}}}}}
  }},
 {"mark":{"type":"point","filled":true,"size":8,"opacity":0.9},
  "encoding":{
   "x":{"field":"q","type":"quantitative","title":"Time (s)"},
   "y":{"field":"p","type":"quantitative","title":"Fluorescence Intensity"},
   "color":{"field":"s","type":"nominal",
    "legend":{"title":null,"labelExpr":"datum.label + 'uM POPS'","encode":{"labels":{"update":{"fill":{"signal":"scale('color', datum.value)"}}},"symbols":{"update":{"fill":{"value":"transparent"},"stroke":{"signal":"scale('color', datum.value)"},"opacity":{"value":1}}}}}}
  }},
 {"mark":{"type":"line","strokeWidth":3,"interpolate":"monotone"},
  "encoding":{
   "x":{"field":"t","type":"quantitative","title":"Time (s)"},
   "y":{"field":"f","type":"quantitative","title":"Fluorescence Intensity"},
   "color":{"field":"s","type":"nominal",
    "legend":{"title":null,"labelExpr":"datum.label + 'uM POPS'","encode":{"labels":{"update":{"fill":{"signal":"scale('color', datum.value)"}}},"symbols":{"update":{"fill":{"value":"transparent"},"stroke":{"signal":"scale('color', datum.value)"},"opacity":{"value":1}}}}}}
  }}
]
}
